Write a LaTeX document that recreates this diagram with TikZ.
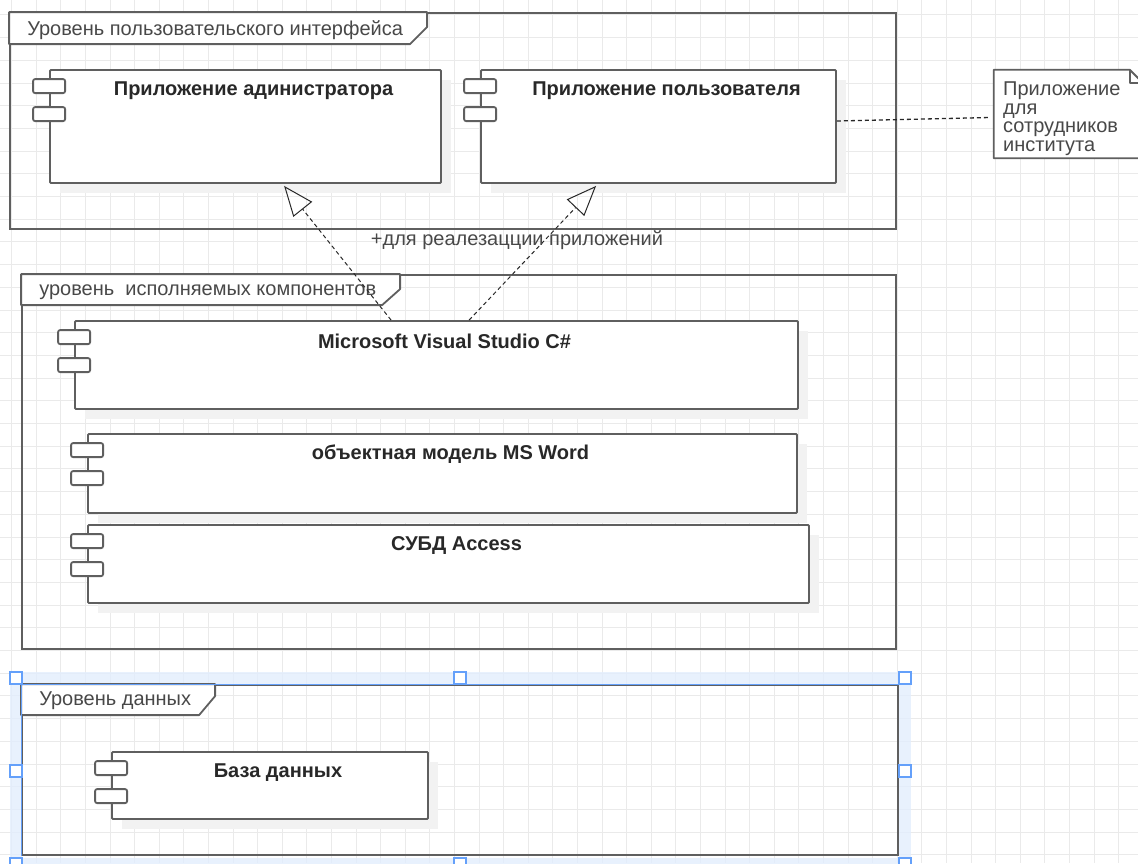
\documentclass[tikz,border=0pt]{standalone}
\usepackage{fontspec}
\setmainfont{Liberation Sans}
\usetikzlibrary{positioning,calc,arrows.meta}
\definecolor{strokegray}{RGB}{95,95,95}
\definecolor{gridgray}{RGB}{234,234,234}
\definecolor{shadegray}{RGB}{242,242,242}
\definecolor{inkgray}{RGB}{40,40,40}
\definecolor{selblue}{RGB}{100,160,250}
\definecolor{selband}{RGB}{226,237,253}

\begin{document}
\begin{tikzpicture}[x=1pt,y=-1pt,
    comp/.style={draw=strokegray, line width=1.8pt, fill=white, rounded corners=1pt, inner sep=0pt},
    port/.style={draw=strokegray, line width=1.8pt, fill=white, rounded corners=2pt,
                 minimum width=32pt, minimum height=14pt, inner sep=0pt},
    pkg/.style={draw=strokegray, line width=1.8pt, inner sep=0pt},
    tab/.style={draw=strokegray, line width=1.8pt, fill=white, line join=round},
    ttl/.style={font=\fontsize{20}{20}\selectfont\bfseries, text=inkgray, inner sep=0pt},
    lbl/.style={font=\fontsize{20}{20}\selectfont, text=inkgray!85, inner sep=0pt},
    real/.style={draw=inkgray, line width=1pt, dash pattern=on 4pt off 3pt,
                 -{Triangle[open,length=30pt,width=24pt]}},
    link/.style={draw=inkgray, line width=1.3pt, dash pattern=on 4pt off 3pt}]
  \useasboundingbox (0,0) rectangle (1138,863);
  \clip (0,0) rectangle (1138,863);
  % grid
  \foreach \gx in {0,...,46}
    \draw[gridgray, line width=1pt] ({11.7+\gx*24.6},0) -- ++(0,863);
  \foreach \gy in {0,...,38}
    \draw[gridgray, line width=1pt] (0,{14.9+\gy*22.7}) -- ++(1138,0);
  % selection band
  \draw[selband, line width=12pt, opacity=0.8] (16,678) rectangle (905,864);

  % packages
  \node[pkg, minimum width=886, minimum height=216] (ui) at (453,121) {};
  \node[pkg, minimum width=874, minimum height=374] (run) at (459,462) {};
  \node[pkg, minimum width=876, minimum height=170] (data) at (460,770) {};
  \draw[tab] (ui.north west) -- ++(418,0) -- ++(0,15) -- ++(-17,17) -- ++(-401,0) -- cycle;
  \draw[tab] (run.north west) -- ++(379,0) -- ++(0,15) -- ++(-18,16) -- ++(-361,0) -- cycle;
  \draw[tab] (data.north west) -- ++(194,0) -- ++(0,12) -- ++(-16,19) -- ++(-178,0) -- cycle;
  \node[lbl, anchor=west] (ui-l) at ($(ui.north west)+(18,18)$) {Уровень пользовательского интерфейса};
  \node[lbl, anchor=west] (run-l) at ($(run.north west)+(18,18)$) {уровень\ \ исполняемых компонентов};
  \node[lbl, anchor=west] (data-l) at ($(data.north west)+(18,17)$) {Уровень данных};

  % components
  \foreach \nm/\lx/\ty/\w/\h/\ttxt in {
      adm/50/70/391/113/Приложение адинистратора,
      usr/481/70/355/113/Приложение пользователя,
      mvs/75/321/723/88/Microsoft Visual Studio C\#,
      word/88/434/709/79/объектная модель MS Word,
      dbms/88/525/721/78/СУБД Access,
      db/112/752/316/67/База данных}{
    \fill[shadegray] ({\lx+10},{\ty+10}) rectangle ++(\w,\h);
    \node[comp, minimum width=\w, minimum height=\h] (\nm) at ({\lx+\w/2},{\ty+\h/2}) {};
    \node[port] (\nm-p1) at ($(\nm.north west)+(0,17)$) {};
    \node[port] (\nm-p2) at ($(\nm.north west)+(0,45)$) {};
    \node[ttl] (\nm-t) at ($(\nm.north)+(8,21.5)$) {\ttxt};
  }

  % note
  \node[minimum width=149, minimum height=88, inner sep=0pt] (note) at (1068.5,114) {};
  \draw[tab] (note.north west) -- ++(136,0) -- ++(13,13) |- (note.south west) -- cycle;
  \draw[tab, fill=none] ($(note.north east)+(-13,0)$) -- ++(0,13) -- ++(13,0);
  \node[lbl, anchor=north west, align=left, font=\fontsize{20}{18.4}\selectfont]
    (note-t) at (1003,82) {Приложение\\для\\сотрудников\\института};

  % connectors
  \draw[real] ($(mvs.north west)+(317,0)$) -- ($(adm.south west)+(235,2)$);
  \draw[real] ($(mvs.north west)+(395,0)$) -- ($(usr.south west)+(116,2)$);
  \draw[link] ($(usr.east)+(0,-5.5)$) -- ($(note.west)+(-4,3.5)$);
  \node[lbl] (rl) at (517,240) {+для реалезацции приложений};

  % selection handles
  \draw[selblue, line width=1.2pt] (data.south west) |- (data.north east);
  \foreach \hx/\hy in {16/678,460/678,905/678,16/771,905/771,16/864,460/864,905/864}
    \draw[selblue, fill=white, line width=1.2pt] ({\hx-6},{\hy-6}) rectangle ++(12,12);
\end{tikzpicture}
\end{document}
